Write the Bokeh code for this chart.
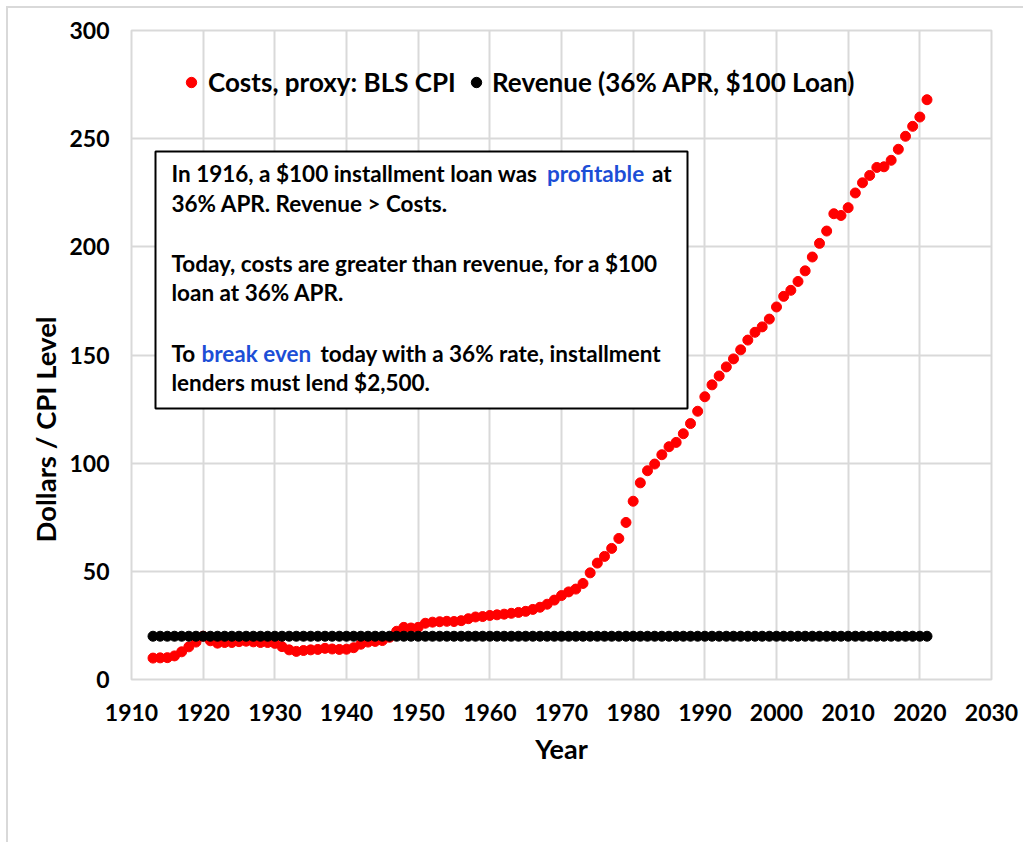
import math
from bokeh.plotting import figure
from bokeh.models import (ColumnDataSource, Legend, LegendItem, Label, BoxAnnotation,
                          SingleIntervalTicker, Range1d, Title)
from bokeh.embed import file_html
from bokeh.resources import INLINE

# ---------------- data ----------------
years = list(range(1913, 2022))
cpi = [9.9, 10.0, 10.1, 10.9, 12.8, 15.1, 17.3, 20.0, 17.9, 16.8,
       17.1, 17.1, 17.5, 17.7, 17.4, 17.1, 17.1, 16.7, 15.2, 13.7,
       13.0, 13.4, 13.7, 13.9, 14.4, 14.1, 13.9, 14.0, 14.7, 16.3,
       17.3, 17.6, 18.0, 19.5, 22.3, 24.1, 23.8, 24.1, 26.0, 26.5,
       26.7, 26.9, 26.8, 27.2, 28.1, 28.9, 29.1, 29.6, 29.9, 30.2,
       30.6, 31.0, 31.5, 32.4, 33.4, 34.8, 36.7, 38.8, 40.5, 41.8,
       44.4, 49.3, 53.8, 56.9, 60.6, 65.2, 72.6, 82.4, 90.9, 96.5,
       99.6, 103.9, 107.6, 109.6, 113.6, 118.3, 124.0, 130.7, 136.2, 140.3,
       144.5, 148.2, 152.4, 156.9, 160.5, 163.0, 166.6, 172.2, 177.1, 179.9,
       184.0, 188.9, 195.3, 201.6, 207.3, 215.3, 214.5, 218.1, 224.9, 229.6,
       233.0, 236.7, 237.0, 240.0, 245.1, 251.1, 255.7, 260.0, 268.0]
revenue = [20.0] * len(years)

series_names = ["Costs, proxy: BLS CPI", "Revenue (36% APR, $100 Loan)"]
x_ticks = list(range(1910, 2031, 10))
y_ticks = list(range(0, 301, 50))

# ---------------- layout helpers (page px -> data) ----------------
PAGE_OFF = 8           # 6px margin + 2px frame border
L, R, T, B = 131, 991, 30, 679
XMIN, XMAX, YMIN, YMAX = 1910, 2030, 0, 300


def X(px):
    return XMIN + (px - L) * (XMAX - XMIN) / (R - L)


def Y(py):
    return YMIN + (B - py) * (YMAX - YMIN) / (B - T)


W, H = 1017, 836
p = figure(width=W, height=H, output_backend="svg", toolbar_location=None,
           x_range=Range1d(XMIN, XMAX), y_range=Range1d(YMIN, YMAX),
           min_border_left=L - PAGE_OFF, min_border_top=T - PAGE_OFF,
           min_border_right=W - (R - PAGE_OFF), min_border_bottom=H - (B - PAGE_OFF))
p.styles = {"margin-top": "6px", "margin-left": "6px",
            "border-top": "2px solid #d9d9d9", "border-left": "2px solid #d9d9d9"}
p.background_fill_color = "white"
p.border_fill_color = "white"
p.outline_line_color = "#d9d9d9"
p.outline_line_width = 2

FONT = "Lato"
p.xaxis.ticker = SingleIntervalTicker(interval=10)
p.yaxis.ticker = SingleIntervalTicker(interval=50)
for ax in (p.xaxis[0], p.yaxis[0]):
    ax.axis_line_color = None
    ax.major_tick_line_color = None
    ax.minor_tick_line_color = None
    ax.major_label_text_font = FONT
    ax.major_label_text_font_style = "bold"
    ax.major_label_text_font_size = "23px"
    ax.major_label_text_color = "black"
p.xaxis.major_label_standoff = 18
p.yaxis.major_label_standoff = 16

p.xaxis.axis_label = "Year"
p.xaxis.axis_label_text_font = FONT
p.xaxis.axis_label_text_font_style = "bold"
p.xaxis.axis_label_text_font_size = "27px"
p.xaxis.axis_label_text_color = "black"
p.xaxis.axis_label_standoff = 8

p.xgrid.grid_line_color = "#d9d9d9"
p.ygrid.grid_line_color = "#d9d9d9"
p.xgrid.grid_line_width = 2
p.ygrid.grid_line_width = 2

src = ColumnDataSource(dict(year=years, cpi=cpi, rev=revenue))
r_cost = p.scatter("year", "cpi", source=src, size=10, color="#ff0000")
r_rev = p.scatter("year", "rev", source=src, size=10, color="black")

# ---------------- y axis title ----------------
ytitle = Title(text="Dollars / CPI Level", align="left", offset=137,
               text_font=FONT, text_font_style="bold", text_font_size="27.5px",
               text_color="black")
p.add_layout(ytitle, "left")

# ---------------- legends ----------------
for name, rend, cx, so in ((series_names[0], r_cost, 191, 4), (series_names[1], r_rev, 476, 3)):
    lg = Legend(items=[LegendItem(label=name, renderers=[rend])],
                location=(cx - 13 - L, B - 98), orientation="horizontal",
                glyph_width=26, glyph_height=32, label_height=32,
                label_standoff=so, padding=0, margin=0,
                label_text_font=FONT, label_text_font_style="bold",
                label_text_font_size="26px", label_text_color="black",
                border_line_alpha=0, background_fill_alpha=0)
    p.add_layout(lg)

# ---------------- text box ----------------
p.add_layout(BoxAnnotation(left=X(155), right=X(687), top=Y(151), bottom=Y(408),
                           fill_color="white", fill_alpha=1.0,
                           line_color="black", line_alpha=1.0, line_width=2,
                           level="overlay"))

BLUE = "#1c4ed6"
pieces = [
    ("In 1916, a $100 installment loan was", 171, 173, "black"),
    ("profitable", 546.5, 173, BLUE),
    ("at", 651.5, 173, "black"),
    ("36% APR. Revenue > Costs.", 171, 203, "black"),
    ("Today, costs are greater than revenue, for a $100", 171, 263, "black"),
    ("loan at 36% APR.", 171, 292, "black"),
    ("To", 171, 353, "black"),
    ("break even", 201, 353, BLUE),
    ("today with a 36% rate, installment", 320, 353, "black"),
    ("lenders must lend $2,500.", 171, 382, "black"),
]
for txt, px, py, col in pieces:
    p.add_layout(Label(x=X(px), y=Y(py), text=txt, text_font=FONT,
                       text_font_style="bold", text_font_size="22.5px",
                       text_color=col, text_align="left", text_baseline="middle",
                       level="overlay"))

open("out.html", "w").write(file_html(p, INLINE))
